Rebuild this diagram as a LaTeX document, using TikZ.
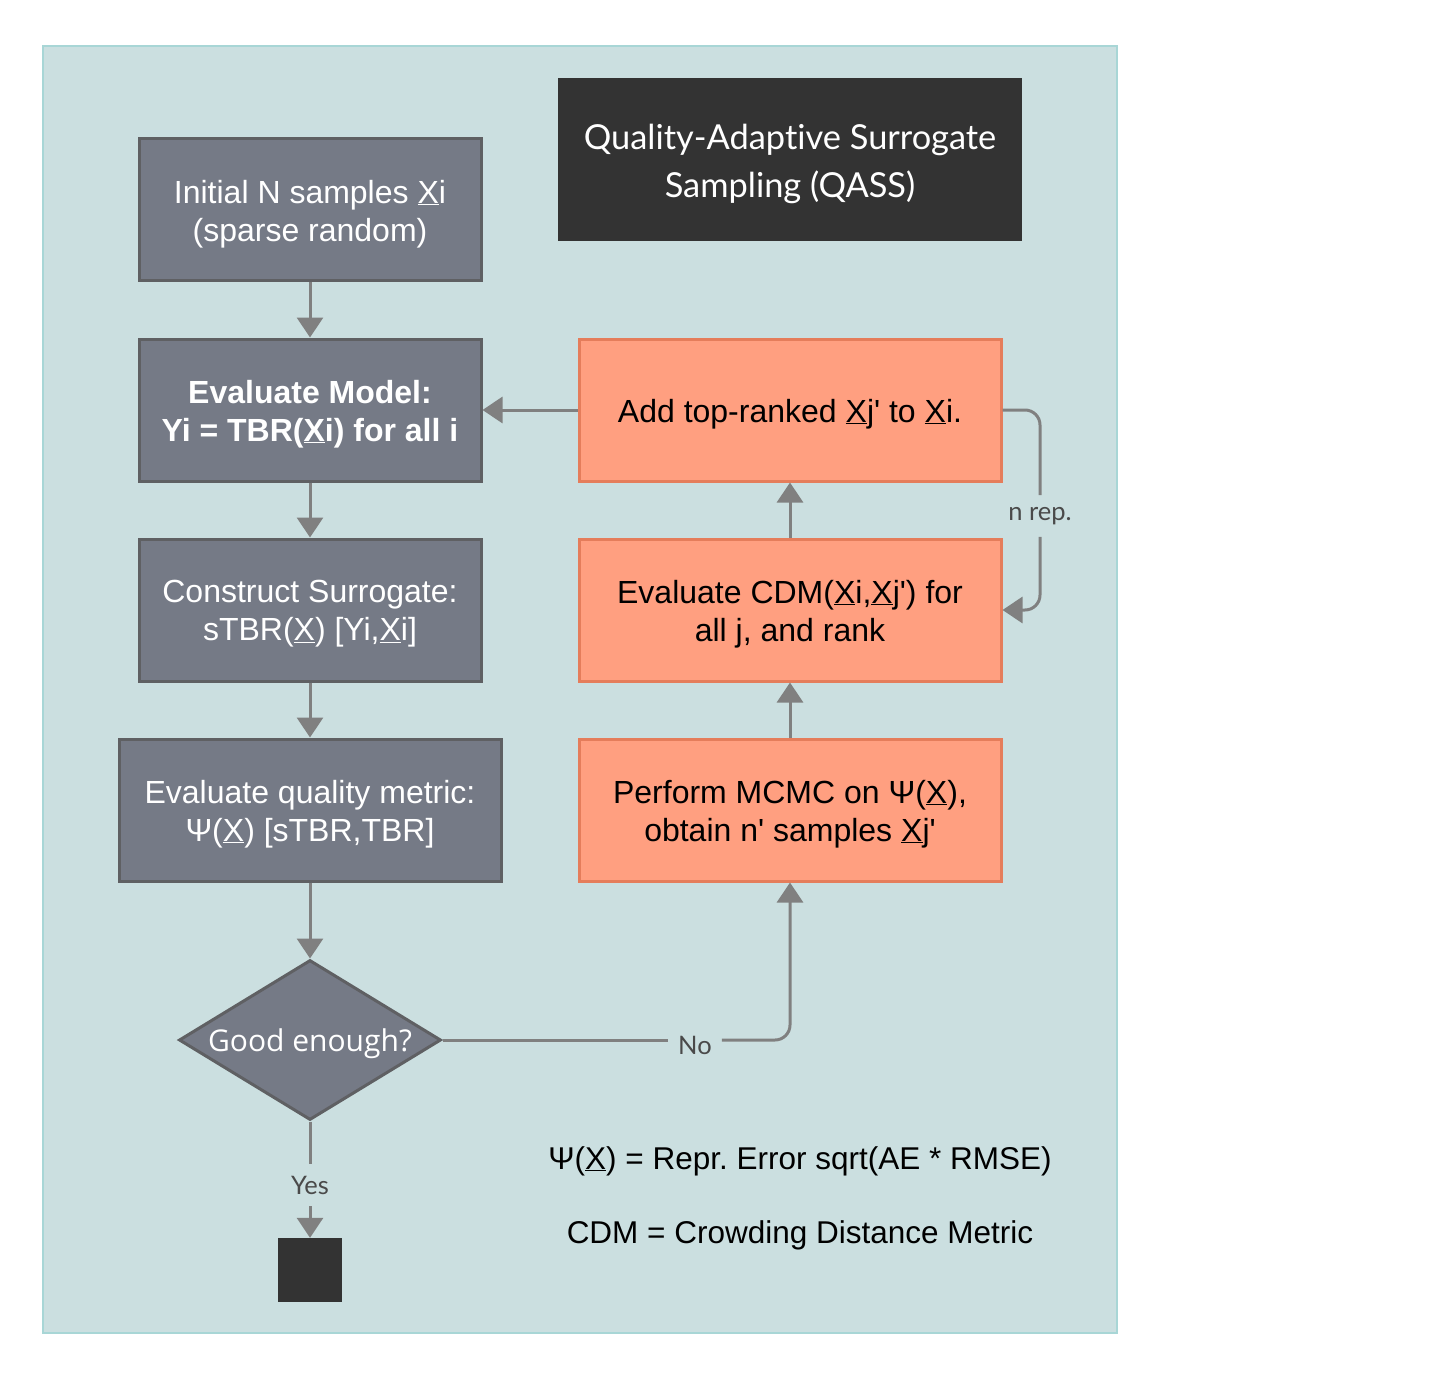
\documentclass[tikz,border=0pt]{standalone}
\usepackage{fontspec}
\setmainfont{Liberation Sans}
\newfontfamily\latofont{Lato}[Ligatures=NoCommon]
\newfontfamily\osfont{Open Sans}
\usetikzlibrary{arrows.meta,shapes.geometric}
\frenchspacing
\definecolor{bgfill}{HTML}{CBDFE0}
\definecolor{bgline}{HTML}{A8D6D6}
\definecolor{grayfill}{HTML}{757A86}
\definecolor{grayline}{HTML}{5F6063}
\definecolor{orfill}{HTML}{FF9F80}
\definecolor{orline}{HTML}{E57D5B}
\definecolor{darkfill}{HTML}{333333}
\definecolor{connc}{HTML}{808080}
\definecolor{lblc}{HTML}{4A4A4A}
\newcommand{\ap}{\textquotesingle}
\tikzset{
  graybox/.style={draw=grayline, fill=grayfill, line width=3pt,
    minimum width=342pt, minimum height=142pt, inner sep=0pt},
  orbox/.style={draw=orline, fill=orfill, line width=3pt,
    minimum width=422pt, minimum height=142pt, inner sep=0pt},
  boxtext/.style={align=center, inner sep=0pt, yshift=-4pt, font=\fontsize{32}{38}\selectfont},
  conn/.style={draw=connc, line width=3pt, -{Triangle[width=26pt,length=20pt]}},
  plainconn/.style={draw=connc, line width=3pt},
  lbl/.style={text=lblc, font=\latofont\fontsize{25.5}{28}\selectfont, inner xsep=10pt, inner ysep=12pt},
  legend/.style={text=black, font=\fontsize{31.5}{38}\selectfont}
}
\begin{document}
\begin{tikzpicture}[x=1pt,y=-1pt]
\useasboundingbox (0,0) rectangle (1440,1380);
\fill[white] (0,0) rectangle (1440,1380);
\draw[fill=bgfill, draw=bgline, line width=1.5pt] (43,46) rectangle (1117,1333);

\node[fill=darkfill, minimum width=464pt, minimum height=163pt, inner sep=0pt] (title) at (790,160) {};
\node[text=white, align=center, inner sep=0pt, yshift=-4pt, font=\latofont\fontsize{34.4}{48}\selectfont] (titlet) at (title.center)
  {Quality-Adaptive Surrogate\\Sampling (QASS)};

\node[graybox] (b1) at (310,210) {};
\node[boxtext, text=white] (b1t) at (b1.center) {Initial N samples \underline{X}i\\(sparse random)};
\node[graybox] (b2) at (310,410) {};
\node[boxtext, text=white, font=\bfseries\fontsize{32}{38}\selectfont] (b2t) at (b2.center) {Evaluate Model:\\Yi = TBR(\underline{X}i) for all i};
\node[graybox] (b3) at (310,610) {};
\node[boxtext, text=white] (b3t) at (b3.center) {Construct Surrogate:\\sTBR(\underline{X}) [Yi,\underline{X}i]};
\node[graybox, minimum width=382pt] (b4) at (310,810) {};
\node[boxtext, text=white] (b4t) at (b4.center) {Evaluate quality metric:\\Ψ(\underline{X}) [sTBR,TBR]};
\node[diamond, draw=grayline, fill=grayfill, line width=3pt, minimum width=262pt, minimum height=160pt, inner sep=0pt] (dia) at (310,1040) {};
\node[text=white, inner sep=0pt, yshift=-4pt, font=\osfont\fontsize{30}{36}\selectfont] (diat) at (dia.center) {Good enough?};
\node[fill=darkfill, minimum width=64pt, minimum height=64pt, inner sep=0pt] (end) at (310,1270) {};

\node[orbox] (add) at (790,410) {};
\node[boxtext, text=black] (addt) at (add.center) {Add top-ranked \underline{X}j\ap{} to \underline{X}i.};
\node[orbox] (cdm) at (790,610) {};
\node[boxtext, text=black] (cdmt) at (cdm.center) {Evaluate CDM(\underline{X}i,\underline{X}j\ap) for\\all j, and rank};
\node[orbox] (mcmc) at (790,810) {};
\node[boxtext, text=black] (mcmct) at (mcmc.center) {Perform MCMC on Ψ(\underline{X}),\\obtain n\ap{} samples \underline{X}j\ap};

\node[legend, yshift=-4pt] (leg1) at (800,1157) {Ψ(\underline{X}) = Repr. Error sqrt(AE * RMSE)};
\node[legend, yshift=-4pt] (leg2) at (800,1231) {CDM = Crowding Distance Metric};

\node[lbl] (no) at (695,1045) {No};
\node[lbl] (yes) at (310,1185) {Yes};
\node[lbl] (nrep) at (1040,516) {n rep.};

\draw[conn] (b1) -- (b2);
\draw[conn] (b2) -- (b3);
\draw[conn] (b3) -- (b4);
\draw[conn] (b4) -- (dia);
\draw[conn] (add) -- (b2);
\draw[conn] (mcmc) -- (cdm);
\draw[conn] (cdm) -- (add);
\draw[plainconn] (dia.east) -- (dia.east -| no.west);
\draw[conn, rounded corners=15pt] (dia.east -| no.east) -| (mcmc.south);
\draw[plainconn] (dia.south) -- (yes.north);
\draw[conn] (yes.south) -- (end.north);
\draw[plainconn, rounded corners=15pt] (add.east) -| (nrep.north);
\draw[conn, rounded corners=15pt] (nrep.south) |- (cdm.east);
\end{tikzpicture}
\end{document}
